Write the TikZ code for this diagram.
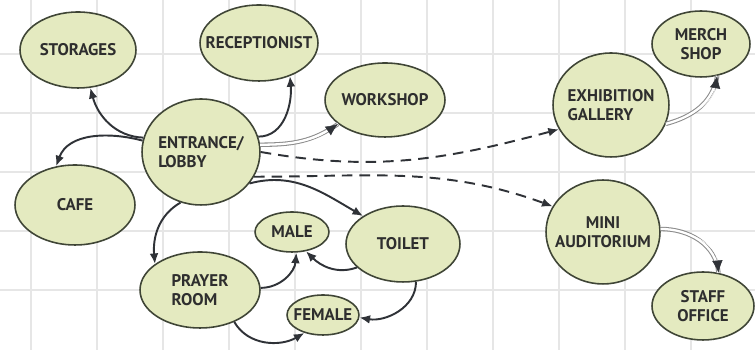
\documentclass[tikz,border=0pt]{standalone}
\usepackage{fontspec}
\setmainfont{PT Sans}
\usetikzlibrary{shapes.geometric,arrows.meta}

\begin{document}
\begin{tikzpicture}[x=0.02cm,y=0.02cm]

% Colori
\definecolor{colRoom}{HTML}{E4EAC0}
\definecolor{colEdge}{HTML}{3F4536}
\definecolor{colArrow}{HTML}{2F3237}
\definecolor{colGrid}{HTML}{E6E6E6}
\definecolor{colTwin}{HTML}{8C8C8C}

\tikzset{
  room/.style={ellipse, draw=colEdge, fill=colRoom, line width=0.9pt, inner sep=0pt},
  rad/.style 2 args={minimum width=#1*0.04cm, minimum height=#2*0.04cm},
  every label/.style={font=\fontsize{9.6}{10.5}\selectfont\bfseries, text=black!82, inner sep=0pt},
  flow/.style={draw=colArrow, line width=1.1pt, -{Latex[length=6pt,width=5pt]}},
  dashflow/.style={flow, dash pattern=on 6pt off 4pt},
  twinflow/.style={preaction={draw=colTwin, double=white, double distance=1.3pt, line width=0.6pt, -},
    draw=white, line width=0.3pt, -{Latex[length=7pt,width=6pt,color=colArrow]}}
}

% Foglio e griglia
\useasboundingbox (0,0) rectangle (755,350);
\fill[white] (0,0) rectangle (755,350);
\foreach \gx in {31,97,...,691} \draw[colGrid, line width=0.8pt] (\gx,0) -- (\gx,350);
\foreach \gy in {60,119,...,296} \draw[colGrid, line width=0.8pt] (0,\gy) -- (755,\gy);

% Stanze
\node[room, rad={58}{38}, label=center:STORAGES] (storages) at (78,300) {};
\node[room, rad={59}{38}, label=center:RECEPTIONIST] (receptionist) at (259,307) {};
\node[room, rad={59}{53}, label={[align=left]center:ENTRANCE/\\LOBBY}] (lobby) at (201,198) {};
\node[room, rad={60}{37}, label=center:WORKSHOP] (workshop) at (385,250) {};
\node[room, rad={58}{52}, label={[align=left]center:EXHIBITION\\GALLERY}] (gallery) at (611,245) {};
\node[room, rad={49}{33}, label={[align=center]center:MERCH\\SHOP}] (merch) at (701,306) {};
\node[room, rad={60}{40}, label=center:CAFE] (cafe) at (75,145) {};
\node[room, rad={37}{20}, label=center:MALE] (male) at (292,118) {};
\node[room, rad={57}{38}, label=center:TOILET] (toilet) at (403,106) {};
\node[room, rad={60}{38}, label={[align=left]center:PRAYER\\ROOM}] (prayer) at (200,60) {};
\node[room, rad={36}{20}, label=center:FEMALE] (female) at (323,35) {};
\node[room, rad={57}{52}, label={[align=center]center:MINI\\AUDITORIUM}] (auditorium) at (603,118) {};
\node[room, rad={51}{34}, label={[align=center]center:STAFF\\OFFICE}] (staff) at (703,44) {};

% Percorsi dall'ingresso
\draw[flow] (lobby.166) to[out=178,in=-75] (storages.-72);
\draw[flow] (lobby.169) to[out=165,in=70] (cafe.116);
\draw[flow] (lobby.15) to[out=0,in=-85] (receptionist.-47);
\draw[twinflow] (lobby.7) to[out=0,in=215] (workshop.207);
\draw[dashflow] (lobby.0) to[out=-10,in=195] (gallery.205);
\draw[dashflow] (lobby.-25) to[out=0,in=160] (auditorium.153);
\draw[flow] (lobby.-33) to[out=15,in=150] (toilet.145);
\draw[flow] (lobby.-112) to[out=210,in=95] (prayer.150);

% Servizi
\draw[flow] (prayer.2) to[out=0,in=-95] (male.-78);
\draw[flow] (toilet.207) to[out=200,in=-45] (male.-54);
\draw[flow] (toilet.-71) to[out=-90,in=-10] (female.-4);
\draw[flow] (prayer.-43) to[out=-60,in=-150] (female.-136);

% Aree espositive
\draw[twinflow] (gallery.-19) to[out=15,in=-100] (merch.-63);
\draw[twinflow] (auditorium.3) to[out=0,in=95] (staff.65);
\end{tikzpicture}
\end{document}
